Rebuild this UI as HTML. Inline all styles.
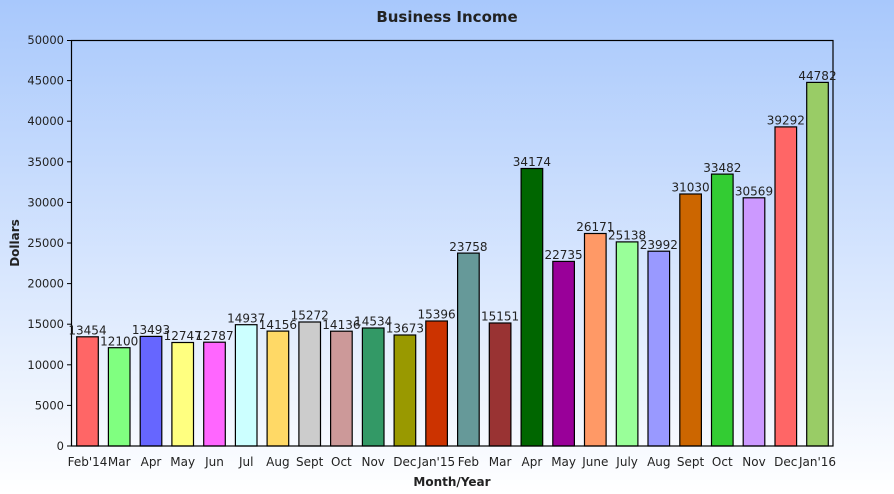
<!DOCTYPE html>
<html><head><meta charset="utf-8"><style>body{margin:0}svg{display:block}text{font-family:"DejaVu Sans","Liberation Sans",sans-serif;fill:#222}</style></head><body>
<svg width="894" height="494" xmlns="http://www.w3.org/2000/svg">
<defs><linearGradient id="bg" x1="0" y1="0" x2="0" y2="1"><stop offset="0" stop-color="#a8c8fc"/><stop offset="1" stop-color="#ffffff"/></linearGradient></defs>
<rect width="894" height="494" fill="url(#bg)"/>
<text x="447" y="22" text-anchor="middle" font-size="15" font-weight="bold" fill="#333">Business Income</text>
<text x="19" y="243" text-anchor="middle" font-size="12" font-weight="bold" transform="rotate(-90 19 243)">Dollars</text>
<text x="452" y="486" text-anchor="middle" font-size="12" font-weight="bold">Month/Year</text>
<g font-size="11.5" text-anchor="end">
<text x="64" y="450">0</text><text x="64" y="409.4">5000</text><text x="64" y="368.8">10000</text><text x="64" y="328.2">15000</text><text x="64" y="287.6">20000</text><text x="64" y="247">25000</text><text x="64" y="206.4">30000</text><text x="64" y="165.8">35000</text><text x="64" y="125.2">40000</text><text x="64" y="84.6">45000</text><text x="64" y="44">50000</text>
</g>
<g stroke="#000" stroke-width="1">
<line x1="67" y1="446" x2="71.5" y2="446"/><line x1="67" y1="405.4" x2="71.5" y2="405.4"/><line x1="67" y1="364.8" x2="71.5" y2="364.8"/><line x1="67" y1="324.2" x2="71.5" y2="324.2"/><line x1="67" y1="283.6" x2="71.5" y2="283.6"/><line x1="67" y1="243" x2="71.5" y2="243"/><line x1="67" y1="202.4" x2="71.5" y2="202.4"/><line x1="67" y1="161.8" x2="71.5" y2="161.8"/><line x1="67" y1="121.2" x2="71.5" y2="121.2"/><line x1="67" y1="80.6" x2="71.5" y2="80.6"/><line x1="67" y1="40.5" x2="71.5" y2="40.5"/>
</g>
<g stroke="#000" stroke-width="1.2">
<rect x="76.7" y="336.8" width="21.6" height="109.2" fill="#ff6666"/>
<rect x="108.4" y="347.7" width="21.6" height="98.3" fill="#80ff80"/>
<rect x="140.2" y="336.4" width="21.6" height="109.6" fill="#6666ff"/>
<rect x="171.9" y="342.5" width="21.6" height="103.5" fill="#ffff80"/>
<rect x="203.7" y="342.2" width="21.6" height="103.8" fill="#ff66ff"/>
<rect x="235.4" y="324.7" width="21.6" height="121.3" fill="#ccffff"/>
<rect x="267.1" y="331.1" width="21.6" height="114.9" fill="#ffd966"/>
<rect x="298.9" y="322" width="21.6" height="124" fill="#cccccc"/>
<rect x="330.6" y="331.2" width="21.6" height="114.8" fill="#cc9999"/>
<rect x="362.4" y="328" width="21.6" height="118" fill="#339966"/>
<rect x="394.1" y="335" width="21.6" height="111" fill="#999900"/>
<rect x="425.8" y="321" width="21.6" height="125" fill="#cc3300"/>
<rect x="457.6" y="253.1" width="21.6" height="192.9" fill="#669999"/>
<rect x="489.3" y="323" width="21.6" height="123" fill="#993333"/>
<rect x="521.1" y="168.5" width="21.6" height="277.5" fill="#006600"/>
<rect x="552.8" y="261.4" width="21.6" height="184.6" fill="#990099"/>
<rect x="584.5" y="233.5" width="21.6" height="212.5" fill="#ff9966"/>
<rect x="616.3" y="241.9" width="21.6" height="204.1" fill="#99ff99"/>
<rect x="648" y="251.2" width="21.6" height="194.8" fill="#9999ff"/>
<rect x="679.8" y="194" width="21.6" height="252" fill="#cc6600"/>
<rect x="711.5" y="174.1" width="21.6" height="271.9" fill="#33cc33"/>
<rect x="743.2" y="197.8" width="21.6" height="248.2" fill="#cc99ff"/>
<rect x="775" y="126.9" width="21.6" height="319.1" fill="#ff6666"/>
<rect x="806.7" y="82.4" width="21.6" height="363.6" fill="#99cc66"/>
</g>
<rect x="71.5" y="40.5" width="761.5" height="405.5" fill="none" stroke="#000" stroke-width="1.2"/>
<g font-size="12" text-anchor="middle">
<text x="87.5" y="334.5">13454</text><text x="119.2" y="345.4">12100</text><text x="151" y="334.1">13493</text><text x="182.7" y="340.2">12747</text><text x="214.5" y="339.9">12787</text><text x="246.2" y="322.4">14937</text><text x="277.9" y="328.8">14156</text><text x="309.7" y="319.7">15272</text><text x="341.4" y="328.9">14136</text><text x="373.2" y="325.7">14534</text><text x="404.9" y="332.7">13673</text><text x="436.6" y="318.7">15396</text><text x="468.4" y="250.8">23758</text><text x="500.1" y="320.7">15151</text><text x="531.9" y="166.2">34174</text><text x="563.6" y="259.1">22735</text><text x="595.3" y="231.2">26171</text><text x="627.1" y="239.6">25138</text><text x="658.8" y="248.9">23992</text><text x="690.6" y="191.7">31030</text><text x="722.3" y="171.8">33482</text><text x="754" y="195.5">30569</text><text x="785.8" y="124.6">39292</text><text x="817.5" y="80.1">44782</text>
</g>
<g font-size="12" text-anchor="middle">
<text x="87.5" y="466">Feb'14</text><text x="119.2" y="466">Mar</text><text x="151" y="466">Apr</text><text x="182.7" y="466">May</text><text x="214.5" y="466">Jun</text><text x="246.2" y="466">Jul</text><text x="277.9" y="466">Aug</text><text x="309.7" y="466">Sept</text><text x="341.4" y="466">Oct</text><text x="373.2" y="466">Nov</text><text x="404.9" y="466">Dec</text><text x="436.6" y="466">Jan'15</text><text x="468.4" y="466">Feb</text><text x="500.1" y="466">Mar</text><text x="531.9" y="466">Apr</text><text x="563.6" y="466">May</text><text x="595.3" y="466">June</text><text x="627.1" y="466">July</text><text x="658.8" y="466">Aug</text><text x="690.6" y="466">Sept</text><text x="722.3" y="466">Oct</text><text x="754" y="466">Nov</text><text x="785.8" y="466">Dec</text><text x="817.5" y="466">Jan'16</text>
</g>
</svg>
</body></html>
